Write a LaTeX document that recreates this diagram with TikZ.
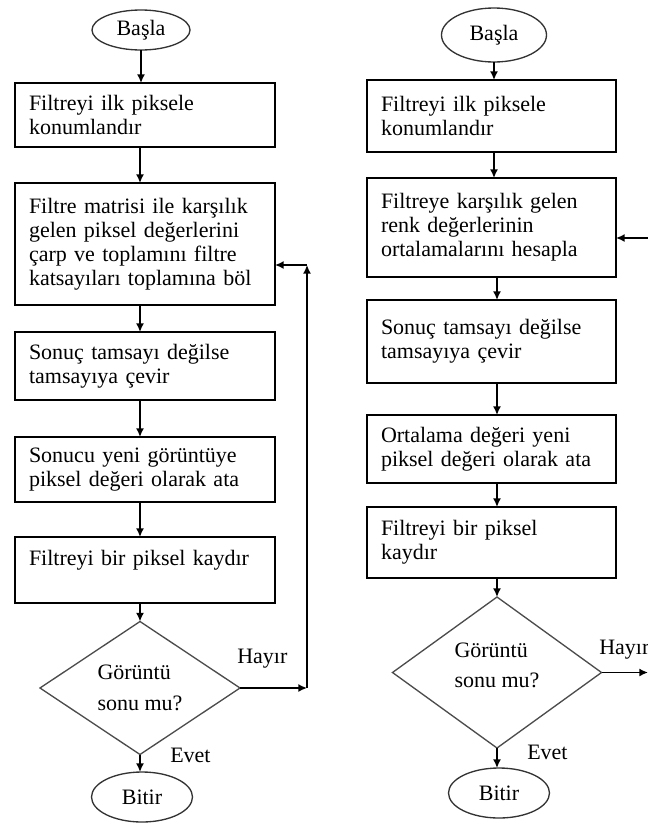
\documentclass[tikz,border=0pt]{standalone}
\usepackage{fontspec}
\setmainfont{Liberation Serif}
\usetikzlibrary{shapes.geometric,arrows.meta}
\begin{document}
\begin{tikzpicture}[x=0.75pt,y=-0.75pt,
  every node/.style={font=\fontsize{16.5}{18}\selectfont},
  procbox/.style={draw=black, line width=1.3pt, align=left, inner xsep=10.5pt, inner ysep=0pt, outer sep=0pt},
  lbox/.style={procbox, text width=174pt},
  rbox/.style={procbox, text width=165.75pt},
  term/.style={ellipse, draw=black!80, line width=1pt, inner sep=0pt, outer sep=0pt},
  decision/.style={diamond, draw=black!70, line width=1pt, inner sep=0pt, outer sep=0pt, align=left, font=\fontsize{16.5}{23}\selectfont},
  lbl/.style={anchor=west, inner sep=0pt},
  arr/.style={draw=black, line width=1.2pt, -{Latex[length=6.5pt,width=6pt]}}
]
\useasboundingbox (0,0) rectangle (648,825);

% ---------- left flowchart ----------
\node[term, minimum width=73.5pt, minimum height=30pt] (ls) at (141,30) {Başla};
\node[lbox, minimum height=48pt] (l1) at (145,115) {Filtreyi ilk piksele\\konumlandır};
\node[lbox, minimum height=91.5pt] (l2) at (145,244) {Filtre matrisi ile karşılık\\gelen piksel değerlerini\\çarp ve toplamını filtre\\katsayıları toplamına böl};
\node[lbox, minimum height=51pt] (l3) at (145,366) {Sonuç tamsayı değilse\\tamsayıya çevir};
\node[lbox, minimum height=48.75pt] (l4) at (145,469.5) {Sonucu yeni görüntüye\\piksel değeri olarak ata};
\node[lbox, minimum height=49.5pt] (l5) at (145,570) {Filtreyi bir piksel kaydır\\~};
\node[decision, minimum width=150pt, minimum height=99.75pt] (ld) at (140,688) {Görüntü\\sonu mu?};
\node[term, minimum width=75.75pt, minimum height=37.5pt] (le) at (142,797) {Bitir};

\draw[arr] (ls.south) -- (ls.south |- l1.north);
\draw[arr] (l1.south -| ld.north) -- (l2.north -| ld.north);
\draw[arr] (l2.south -| ld.north) -- (l3.north -| ld.north);
\draw[arr] (l3.south -| ld.north) -- (l4.north -| ld.north);
\draw[arr] (l4.south -| ld.north) -- (l5.north -| ld.north);
\draw[arr] (l5.south -| ld.north) -- (ld.north);
\draw[arr] (ld.south) -- (ld.south |- le.north);

\coordinate (lc1) at (307,688);
\coordinate (lc2) at (307,265);
\draw[arr] (ld.east) -- (lc1);
\draw[arr] (lc1) -- (lc2);
\draw[arr] (lc2) -- (lc2 -| l2.east);

\node[lbl] (lh) at (237,659) {Hayır};
\node[lbl] (lev) at (170,755) {Evet};

% ---------- right flowchart ----------
\node[term, minimum width=78.75pt, minimum height=40.5pt] (rs) at (494,35) {Başla};
\node[rbox, minimum height=54pt] (r1) at (491.5,116) {Filtreyi ilk piksele\\konumlandır};
\node[rbox, minimum height=74.25pt] (r2) at (491.5,227.5) {Filtreye karşılık gelen\\renk değerlerinin\\ortalamalarını hesapla};
\node[rbox, minimum height=62.25pt] (r3) at (491.5,341.5) {Sonuç tamsayı değilse\\tamsayıya çevir};
\node[rbox, minimum height=51pt] (r4) at (491.5,449) {Ortalama değeri yeni\\piksel değeri olarak ata};
\node[rbox, minimum height=53.25pt] (r5) at (491.5,542.5) {Filtreyi bir piksel\\kaydır};
\node[decision, minimum width=156.75pt, minimum height=113.25pt] (rd) at (497,672.5) {Görüntü\\sonu mu?\\[-12pt]\mbox{}};
\node[term, minimum width=75.75pt, minimum height=37.5pt] (re) at (499,793) {Bitir};

\draw[arr] (rs.south) -- (rs.south |- r1.north);
\draw[arr] (r1.south -| rs.south) -- (r2.north -| rs.south);
\draw[arr] (r2.south -| rd.north) -- (r3.north -| rd.north);
\draw[arr] (r3.south -| rd.north) -- (r4.north -| rd.north);
\draw[arr] (r4.south -| rd.north) -- (r5.north -| rd.north);
\draw[arr] (r5.south -| rd.north) -- (rd.north);
\draw[arr] (rd.south) -- (rd.south |- re.north);

\coordinate (rin) at (648,238);
\draw[arr] (rin) -- (rin -| r2.east);
\coordinate (rout) at (648,672.5);
\draw[arr] (rd.east) -- (rout);

\node[lbl] (rh) at (599,650) {Hayır};
\node[lbl] (rev) at (527,752) {Evet};
\end{tikzpicture}
\end{document}
